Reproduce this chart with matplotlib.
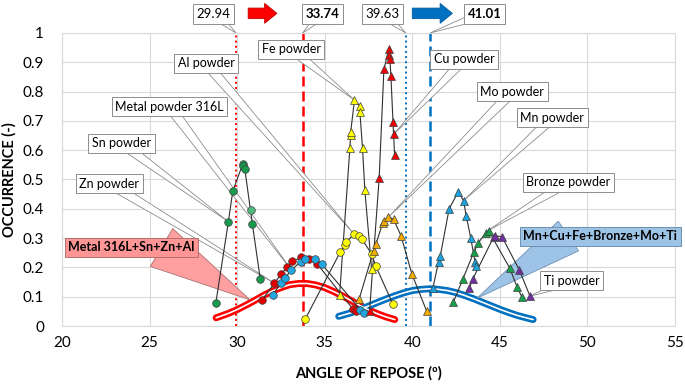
import numpy as np
import matplotlib.pyplot as plt
from matplotlib.patches import Polygon, FancyArrow

plt.rcParams['font.family'] = ['Lato', 'DejaVu Sans']

# --- data (angle of repose, occurrence) ---
sn_x = [28.78, 29.5, 29.75, 30.32, 30.35, 30.44, 30.87, 31.32]
sn_y = [0.078, 0.356, 0.46, 0.553, 0.546, 0.535, 0.348, 0.16]
sn2_x = [30.78]
sn2_y = [0.396]
zn_x = [31.44, 32.13, 32.5, 32.87, 33.16, 33.66, 34.11, 34.57, 36.61, 36.76]
zn_y = [0.09, 0.146, 0.176, 0.202, 0.221, 0.234, 0.23, 0.212, 0.058, 0.05]
m316_x = [32.02, 32.52, 32.73, 33.1, 33.64, 33.85, 34.45, 34.82, 37.04, 37.25]
m316_y = [0.107, 0.146, 0.164, 0.191, 0.22, 0.227, 0.227, 0.212, 0.055, 0.046]
al_x = [33.9, 35.9, 36.13, 36.23, 36.69, 36.95, 37.12, 37.68, 37.92, 38.89]
al_y = [0.025, 0.254, 0.276, 0.288, 0.313, 0.307, 0.297, 0.246, 0.204, 0.075]
fe_x = [35.85, 36.44, 36.48, 36.48, 36.7, 36.99, 37.01, 37.16, 37.29, 37.68]
fe_y = [0.106, 0.609, 0.652, 0.661, 0.771, 0.752, 0.729, 0.606, 0.464, 0.193]
cu_x = [37.56, 38.11, 38.38, 38.65, 38.68, 38.72, 38.78, 38.9, 38.93, 38.99]
cu_y = [0.05, 0.506, 0.876, 0.944, 0.925, 0.911, 0.853, 0.695, 0.654, 0.584]
mo_x = [36.97, 37.79, 37.92, 38.32, 38.41, 38.64, 38.93, 39.36, 39.98, 40.82]
mo_y = [0.093, 0.257, 0.279, 0.353, 0.36, 0.372, 0.365, 0.307, 0.177, 0.051]
mn_x = [41.18, 41.5, 41.6, 42.1, 42.62, 42.93, 43.08, 43.34, 43.58, 43.65]
mn_y = [0.131, 0.219, 0.239, 0.399, 0.458, 0.428, 0.375, 0.30, 0.219, 0.205]
bronze_x = [42.35, 42.9, 43.52, 43.77, 44.21, 44.37, 45.57, 45.99, 46.25]
bronze_y = [0.082, 0.162, 0.253, 0.284, 0.319, 0.324, 0.197, 0.132, 0.1]
ti_x = [43.26, 43.45, 44.65, 44.75, 45.12, 46.12, 46.72]
ti_y = [0.131, 0.16, 0.304, 0.307, 0.305, 0.19, 0.102]

# fitted distributions
red_fit_x = [28.8, 29.5, 30.0, 30.5, 31.0, 31.5, 32.0, 32.5, 33.0, 33.5, 34.0,
             34.5, 35.0, 35.5, 36.0, 36.5, 37.0, 37.5, 38.0, 38.5, 39.0]
red_fit_y = [0.028, 0.043, 0.056, 0.071, 0.087, 0.104, 0.119, 0.131, 0.141, 0.145, 0.145,
             0.140, 0.131, 0.118, 0.103, 0.087, 0.070, 0.055, 0.042, 0.031, 0.022]
blue_fit_x = [35.8, 36.5, 37.0, 37.5, 38.0, 38.5, 39.0, 39.5, 40.0, 40.5, 41.0, 41.5,
              42.0, 42.5, 43.0, 43.5, 44.0, 44.5, 45.0, 45.5, 46.0, 46.5, 46.9]
blue_fit_y = [0.033, 0.045, 0.056, 0.068, 0.080, 0.092, 0.103, 0.113, 0.121, 0.125, 0.127, 0.125,
              0.121, 0.114, 0.104, 0.093, 0.081, 0.069, 0.057, 0.046, 0.036, 0.028, 0.022]

red_lines = [29.94, 33.74]
blue_lines = [39.63, 41.01]

RED = '#FF0000'
BLUE = '#0070C0'
EDGE = '#8C8C8C'

fig = plt.figure(figsize=(6.85, 3.85), dpi=100)
ax = fig.add_axes([62 / 685, 59 / 385, 613 / 685, 293 / 385])
ax.set_xlim(20, 55)
ax.set_ylim(0, 1)
ax.set_xticks(range(20, 56, 5))
ax.set_yticks(np.arange(0, 1.01, 0.1))
ax.set_yticklabels(['0', '0.1', '0.2', '0.3', '0.4', '0.5', '0.6', '0.7', '0.8', '0.9', '1'])
ax.grid(True, color='#D9D9D9', lw=0.8, zorder=0)
ax.set_axisbelow(True)
for s in ax.spines.values():
    s.set_color('#D9D9D9')
ax.tick_params(length=0, labelsize=11, colors='#000000')
ax.tick_params(axis='x', pad=7)
ax.tick_params(axis='y', pad=13)
ax.set_xlabel('ANGLE OF REPOSE (º)', fontsize=10.5, fontweight='bold', labelpad=12)
ax.set_ylabel('OCCURRENCE (-)', fontsize=10.5, fontweight='bold', labelpad=4)

# vertical reference lines
ax.axvline(red_lines[0], color=RED, ls=':', lw=1.4, zorder=2)
ax.axvline(red_lines[1], color=RED, ls=(0, (4, 2)), lw=1.8, zorder=2)
ax.axvline(blue_lines[0], color=BLUE, ls=':', lw=1.4, zorder=2)
ax.axvline(blue_lines[1], color=BLUE, ls=(0, (4, 2)), lw=1.8, zorder=2)

# fitted curves, double-line look
for fx, fy, c in [(red_fit_x, red_fit_y, RED), (blue_fit_x, blue_fit_y, BLUE)]:
    ax.plot(fx, fy, color=c, lw=5, solid_capstyle='round', zorder=2.5)
    ax.plot(fx, fy, color='white', lw=1.2, solid_capstyle='round', zorder=2.6)

series = [
    (sn_x, sn_y, 'o', '#179A4B'),
    (zn_x, zn_y, 'o', '#E00000'),
    (m316_x, m316_y, 'o', '#21A6E0'),
    (al_x, al_y, 'o', '#FFFF00'),
    (fe_x, fe_y, '^', '#FFFF00'),
    (cu_x, cu_y, '^', '#F00000'),
    (mo_x, mo_y, '^', '#F2AC00'),
    (mn_x, mn_y, '^', '#1BA1DC'),
    (bronze_x, bronze_y, '^', '#17A04A'),
    (ti_x, ti_y, '^', '#7030A0'),
]
for sx, sy, m, c in series:
    ax.plot(sx, sy, color='#303030', lw=0.8, zorder=4)
    ax.plot(sx, sy, ls='none', marker=m, ms=5.5 if m == 'o' else 6,
            mfc=c, mec='#404040', mew=0.5, zorder=5)
ax.plot(sn2_x, sn2_y, ls='none', marker='o', ms=5.5, mfc='#4DBB7B',
        mec='#404040', mew=0.5, zorder=5)


def callout(text, box, target, half=5, base_dx=0, fc='white', ec=EDGE,
            wfc=None, bold=False, fs=9, alpha=1.0):
    pb = ax.transData.transform(box) + np.array([base_dx, 0])
    pt = ax.transData.transform(target)
    d = pt - pb
    d = d / np.hypot(*d)
    n = np.array([-d[1], d[0]])
    pts = ax.transData.inverted().transform([pb + n * half, pb - n * half, pt])
    ax.add_patch(Polygon(pts, closed=True, fc=wfc or fc, ec=ec, lw=0.6,
                         alpha=alpha, zorder=3.5, clip_on=False))
    ax.text(box[0], box[1], text, ha='center', va='center', fontsize=fs,
            fontweight='bold' if bold else 'normal', zorder=10, clip_on=False,
            bbox=dict(boxstyle='square,pad=0.28', fc=fc, ec=ec, lw=0.7))


callout('Fe powder', (33.09, 0.945), (36.7, 0.771))
callout('Al powder', (28.23, 0.896), (36.69, 0.313))
callout('Metal powder 316L', (26.14, 0.749), (33.1, 0.191))
callout('Sn powder', (23.4, 0.623), (29.5, 0.356))
callout('Zn powder', (22.71, 0.486), (32.13, 0.146))
callout('Cu powder', (42.97, 0.911), (38.93, 0.654))
callout('Mo powder', (45.71, 0.799), (38.64, 0.372))
callout('Mn powder', (48.0, 0.71), (42.93, 0.428))
callout('Bronze powder', (48.91, 0.491), (44.3, 0.325))
callout('Ti powder', (49.09, 0.154), (46.72, 0.102))
callout('Metal 316L+Sn+Zn+Al', (23.97, 0.268), (30.74, 0.089), half=22,
        base_dx=30, fc='#FF9595', ec='#B07070', wfc='#FF9F9F', bold=True, fs=9)
callout('Mn+Cu+Fe+Bronze+Mo+Ti', (50.74, 0.307), (43.7, 0.095), half=18,
        base_dx=-32, fc='#9DC3E6', ec='#6F8FAF', wfc='#9DC3E6', bold=True, fs=9)

# value boxes above the plot
for val, bx, bold in [(29.94, 28.66, False), (33.74, 34.89, True),
                      (39.63, 38.31, False), (41.01, 44.14, True)]:
    callout(f'{val:.2f}', (bx, 1.065), (val, 1.0), half=5, bold=bold, fs=9.5)

ax.add_patch(FancyArrow(30.63, 1.067, 1.64, 0, width=0.036, head_width=0.068,
                        head_length=0.7, length_includes_head=True, fc=RED,
                        ec='#C00000', lw=0.6, clip_on=False, zorder=10))
ax.add_patch(FancyArrow(40.0, 1.067, 2.29, 0, width=0.036, head_width=0.068,
                        head_length=0.7, length_includes_head=True, fc=BLUE,
                        ec='#005A9E', lw=0.6, clip_on=False, zorder=10))

fig.savefig('out.png', dpi=100)
